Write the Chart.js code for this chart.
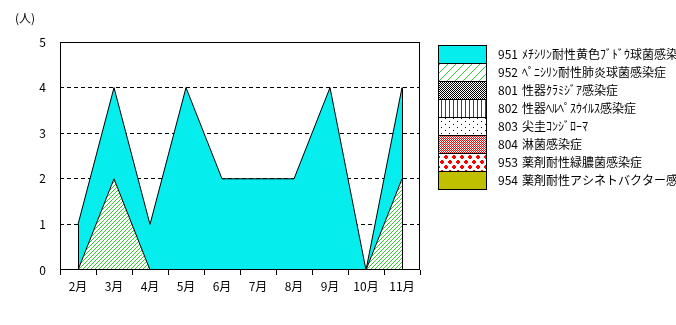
<!DOCTYPE html>
<html><head><meta charset="utf-8">
<script src="https://cdn.jsdelivr.net/npm/chart.js@4/dist/chart.umd.min.js"></script>
<style>html,body{margin:0;padding:0;background:#fff;overflow:hidden}</style>
</head><body>
<canvas id="c" width="676" height="325"></canvas>
<script>
// ---- data ----
const months = ['2月','3月','4月','5月','6月','7月','8月','9月','10月','11月'];
const s951 = [1,2,1,4,2,2,2,4,0,2];
const s952 = [0,2,0,0,0,0,0,0,0,2];
const s801 = [0,0,0,0,0,0,0,0,0,0];
const s802 = [0,0,0,0,0,0,0,0,0,0];
const s803 = [0,0,0,0,0,0,0,0,0,0];
const s804 = [0,0,0,0,0,0,0,0,0,0];
const s953 = [0,0,0,0,0,0,0,0,0,0];
const s954 = [0,0,0,0,0,0,0,0,0,0];
const legendCodes = ['951','952','801','802','803','804','953','954'];
const legendNames = ['ﾒﾁｼﾘﾝ耐性黄色ﾌﾞﾄﾞｳ球菌感染','ﾍﾟﾆｼﾘﾝ耐性肺炎球菌感染症','性器ｸﾗﾐｼﾞｱ感染症','性器ﾍﾙﾍﾟｽｳｲﾙｽ感染症','尖圭ｺﾝｼﾞﾛｰﾏ','淋菌感染症','薬剤耐性緑膿菌感染症','薬剤耐性アシネトバクター感'];
const yTicks = [0,1,2,3,4,5];
const unitLabel = '(人)';

// ---- patterns ----
const FONT = "'Noto Sans CJK JP', sans-serif";
const ctx0 = document.getElementById('c').getContext('2d');
function pat(w, h, fn) {
  const cv = document.createElement('canvas'); cv.width = w; cv.height = h;
  const g = cv.getContext('2d'); g.fillStyle = '#fff'; g.fillRect(0,0,w,h);
  fn(g); return ctx0.createPattern(cv, 'repeat');
}
const CYAN = '#05eded';
const GREEN = '#33cc33';
const hatchChart = pat(4,4,g=>{g.fillStyle=GREEN;for(let x=0;x<4;x++){g.fillRect(x,3-x,1,1);}});
const hatchLegend = pat(8,8,g=>{g.fillStyle=GREEN;for(let x=0;x<8;x++){g.fillRect(x,7-x,1,1);}});
const grayChk = pat(2,2,g=>{g.fillStyle='#000';g.fillRect(0,0,1,1);g.fillRect(1,1,1,1);});
const vLines = pat(4,4,g=>{g.fillStyle='#007000';g.fillRect(1,0,1,4);});
const dots = pat(8,6,g=>{g.fillStyle='#000080';g.fillRect(1,1,1,1);g.fillRect(5,4,1,1);});
const redChk = pat(2,2,g=>{g.fillStyle='#ff0000';g.fillRect(0,0,1,1);g.fillRect(1,1,1,1);});
const plus = pat(8,10,g=>{g.fillStyle='#ff0000';
  [[2,2],[6,7]].forEach(([cx,cy])=>{g.fillRect(cx-2,cy-1,4,2);g.fillRect(cx-1,cy-2,2,4);});});
const legendFill = {'951':CYAN,'952':hatchLegend,'801':grayChk,'802':vLines,'803':dots,'804':redChk,'953':plus,'954':'#c0c000'};

function zeroDs(code, data) {
  return {label: code, data, showLine:false, fill:false, pointRadius:0, borderWidth:0, backgroundColor: 'transparent'};
}

const datasets = [
  {label:'952', data:s952, fill:'origin', backgroundColor:hatchChart, borderColor:'#000', borderWidth:1, pointRadius:0, tension:0},
  {label:'951', data:s951, fill:'-1', backgroundColor:CYAN, borderColor:'#000', borderWidth:1, pointRadius:0, tension:0},
  zeroDs('801', s801), zeroDs('802', s802), zeroDs('803', s803),
  zeroDs('804', s804), zeroDs('953', s953), zeroDs('954', s954)
];

const decor = {
  id:'decor',
  afterDatasetsDraw(chart) {
    const {ctx, chartArea:a} = chart;
    const y0 = chart.scales.y.getPixelForValue(0);
    const pts = chart.getDatasetMeta(1).data;
    ctx.save();
    ctx.strokeStyle = '#000'; ctx.lineWidth = 1;
    [pts[0], pts[pts.length-1]].forEach(p=>{
      const x = Math.round(p.x)+0.5;
      ctx.beginPath(); ctx.moveTo(x, y0); ctx.lineTo(x, p.y); ctx.stroke();
    });
    ctx.strokeRect(a.left+0.5, a.top+0.5, a.right-a.left-1, a.bottom-a.top-1);
    ctx.restore();
  },
  afterDraw(chart) {
    const ctx = chart.ctx;
    ctx.save();
    ctx.font = '12px ' + FONT; ctx.fillStyle = '#000'; ctx.textBaseline = 'middle';
    ctx.fillText(unitLabel, 15, 18);
    const x0 = 438, y0 = 45, bw = 49, bh = 18;
    legendCodes.forEach((code, i) => {
      const y = y0 + i*bh;
      ctx.fillStyle = legendFill[code];
      ctx.fillRect(x0, y, bw, bh);
      ctx.strokeStyle = '#000'; ctx.lineWidth = 1;
      ctx.strokeRect(x0+0.5, y+0.5, bw-1, bh);
      ctx.fillStyle = '#000';
      ctx.fillText(code, 498, y + bh/2 + 0.5);
      ctx.fillText(legendNames[i], 522, y + bh/2 + 0.5);
    });
    ctx.restore();
  }
};

new Chart(document.getElementById('c'), {
  type:'line',
  data:{labels:months, datasets},
  plugins:[decor],
  options:{
    responsive:false, animation:false, devicePixelRatio:1,
    events:[],
    layout:{padding:{top:42, right:256, bottom:25, left:0}},
    plugins:{legend:{display:false}, tooltip:{enabled:false}},
    elements:{line:{tension:0}},
    scales:{
      x:{
        type:'category', offset:true,
        grid:{offset:true, drawOnChartArea:false, drawTicks:true, tickLength:5, color:'#000', lineWidth:1},
        border:{display:false},
        ticks:{color:'#000', font:{family:FONT, size:12}, padding:4, maxRotation:0, autoSkip:false},
        afterFit(s){ s.height = 30; }
      },
      y:{
        stacked:true, min:0, max:5,
        afterBuildTicks(s){ s.ticks = yTicks.map(v=>({value:v})); },
        grid:{drawTicks:false, lineWidth:1,
          color:(c)=> (c.tick && c.tick.value>0 && c.tick.value<5) ? '#000' : 'rgba(0,0,0,0)'},
        border:{display:false, dash:[4,3]},
        ticks:{color:'#000', font:{family:FONT, size:12}, padding:14},
        afterFit(s){ s.width = 60; }
      }
    }
  }
});
</script>
</body></html>
